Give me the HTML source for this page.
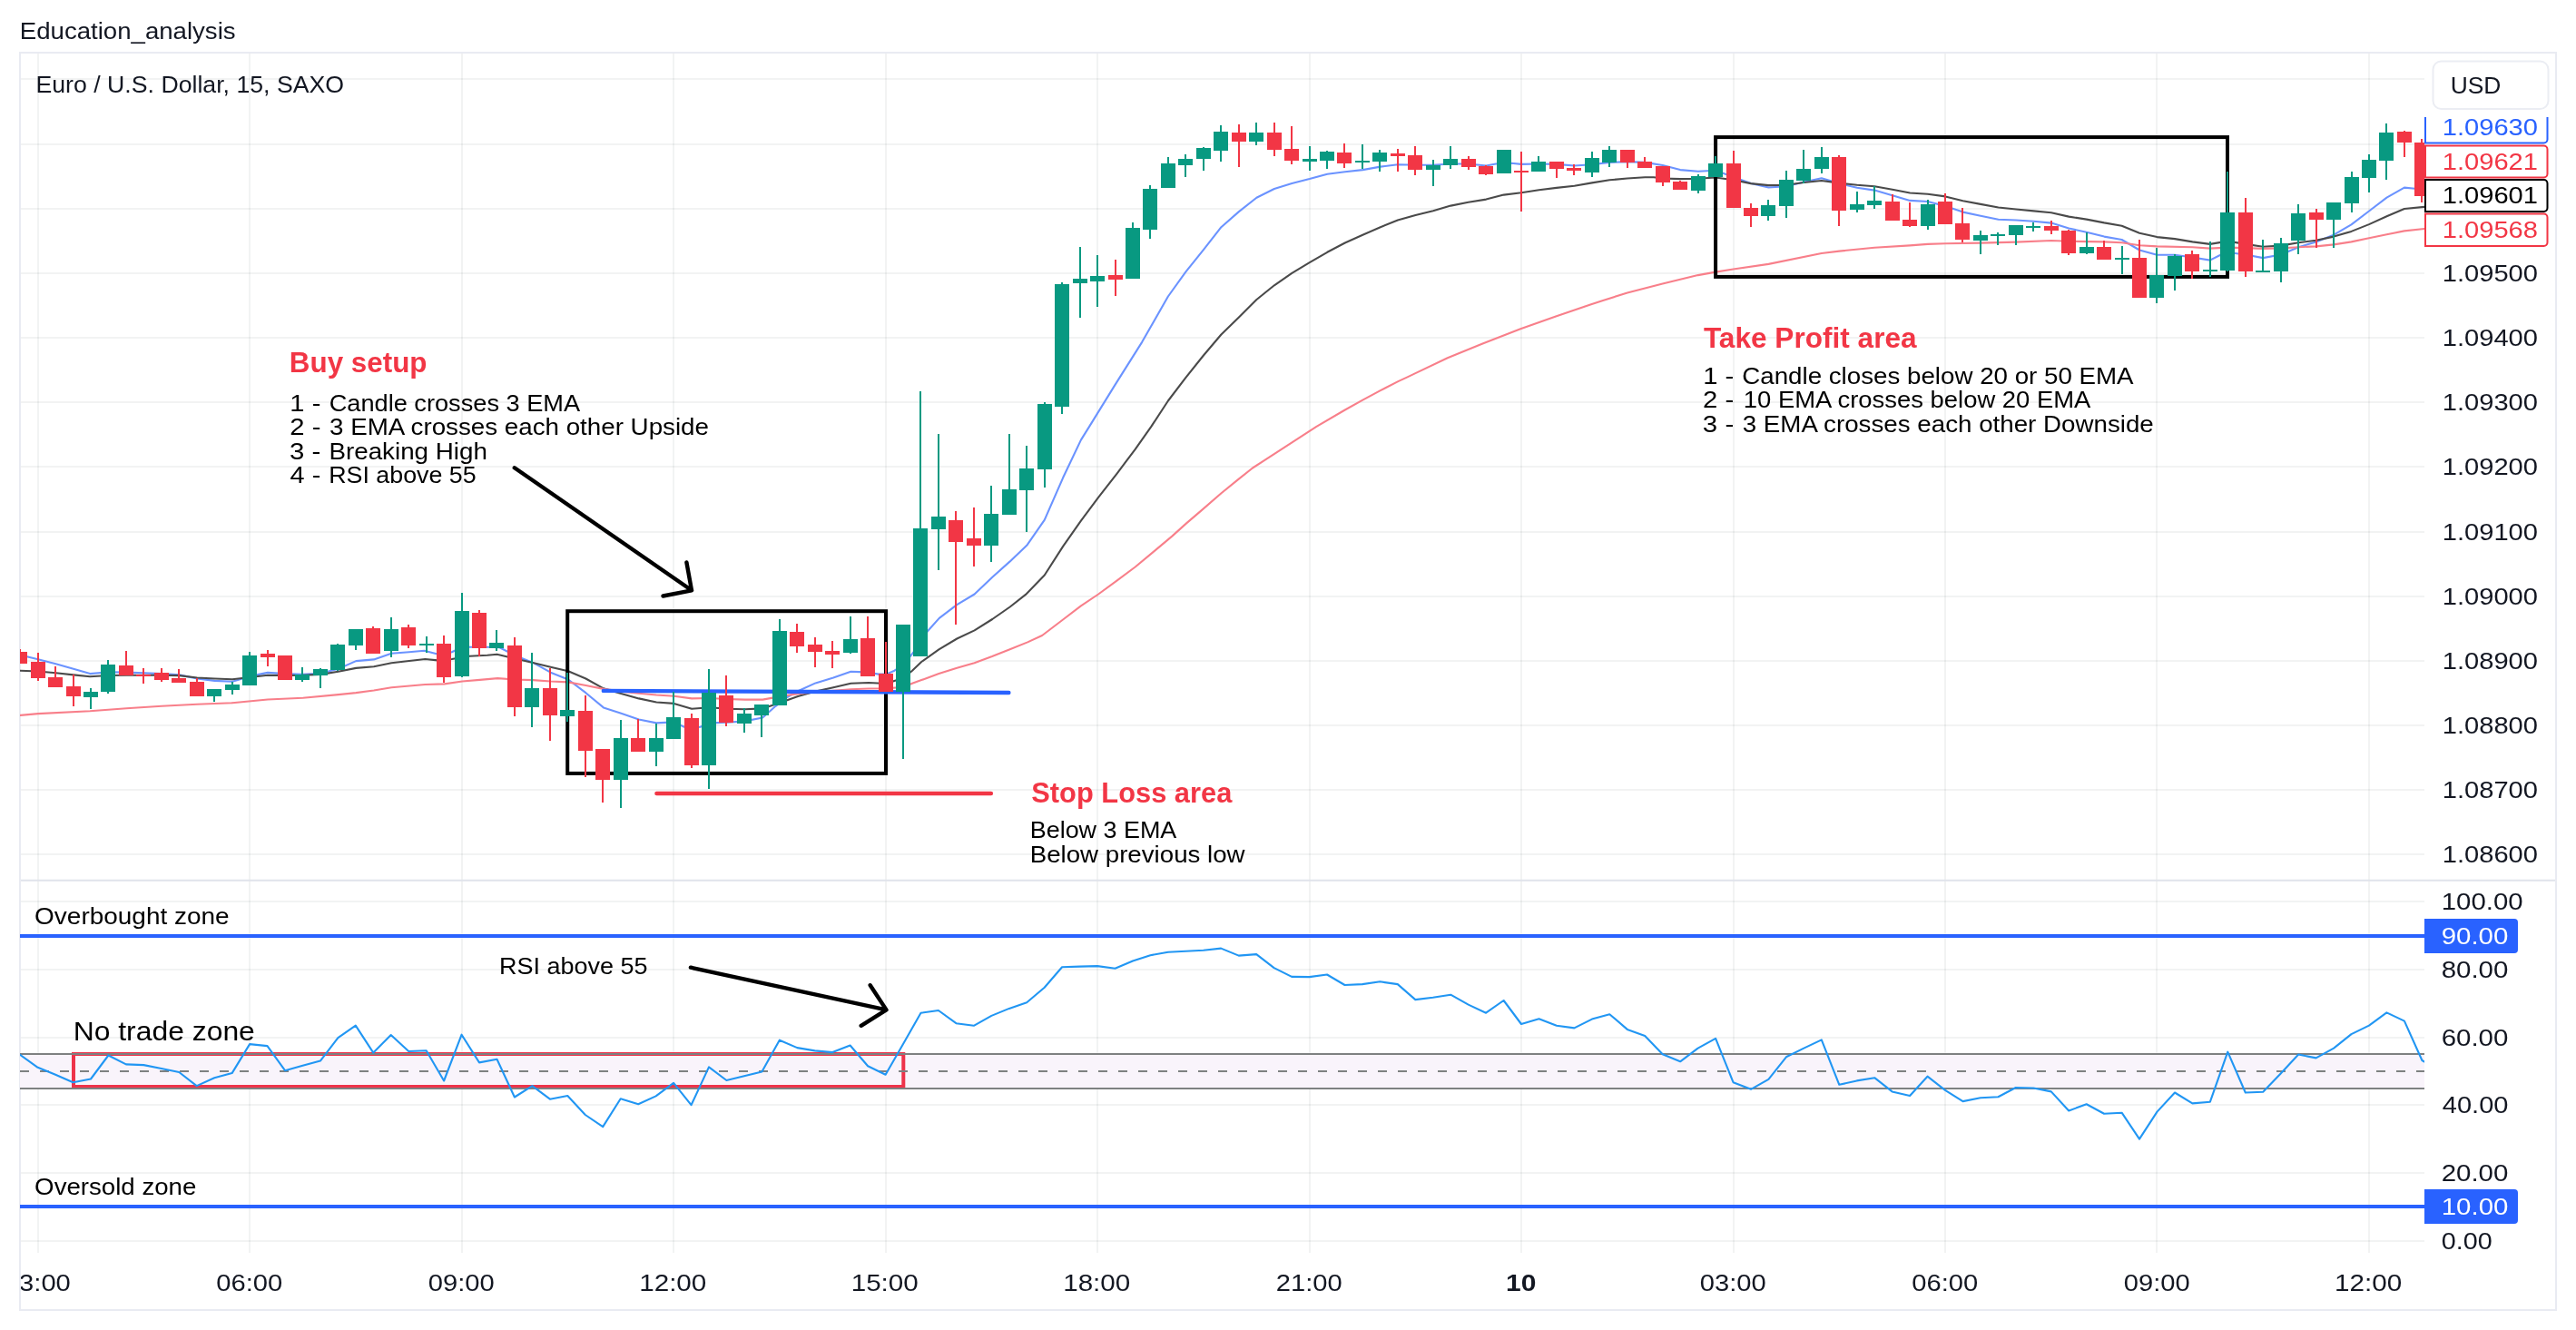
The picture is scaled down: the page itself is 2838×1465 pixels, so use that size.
<!DOCTYPE html><html><head><meta charset="utf-8"><style>html,body{margin:0;padding:0;background:#fff}body{width:2838px;height:1465px;position:relative;overflow:hidden}</style></head><body><svg width="2838" height="1465" viewBox="0 0 2838 1465" style="position:absolute;left:0;top:0;will-change:transform;font-family:'Liberation Sans',sans-serif">
<defs>
<clipPath id="cm"><rect x="22" y="58" width="2649" height="911.7"/></clipPath>
<clipPath id="cr"><rect x="22" y="969.7" width="2649" height="410.70000000000005"/></clipPath>
<clipPath id="ct"><rect x="23" y="1380.4" width="2649" height="62.59999999999991"/></clipPath>
<clipPath id="ca"><rect x="2671" y="129" width="145" height="1314"/></clipPath>
</defs>
<rect width="2838" height="1465" fill="#fff"/>
<g stroke="rgba(40,52,50,0.06)" stroke-width="2" shape-rendering="crispEdges">
<line x1="22" y1="87" x2="2671" y2="87"/>
<line x1="22" y1="159" x2="2671" y2="159"/>
<line x1="22" y1="230" x2="2671" y2="230"/>
<line x1="22" y1="301" x2="2671" y2="301"/>
<line x1="22" y1="372" x2="2671" y2="372"/>
<line x1="22" y1="443" x2="2671" y2="443"/>
<line x1="22" y1="514" x2="2671" y2="514"/>
<line x1="22" y1="586" x2="2671" y2="586"/>
<line x1="22" y1="657" x2="2671" y2="657"/>
<line x1="22" y1="728" x2="2671" y2="728"/>
<line x1="22" y1="799" x2="2671" y2="799"/>
<line x1="22" y1="870" x2="2671" y2="870"/>
<line x1="22" y1="941" x2="2671" y2="941"/>
<line x1="22" y1="993" x2="2671" y2="993"/>
<line x1="22" y1="1068" x2="2671" y2="1068"/>
<line x1="22" y1="1143" x2="2671" y2="1143"/>
<line x1="22" y1="1217" x2="2671" y2="1217"/>
<line x1="22" y1="1292" x2="2671" y2="1292"/>
<line x1="22" y1="1367" x2="2671" y2="1367"/>
<line x1="42" y1="58" x2="42" y2="1380.4"/>
<line x1="275" y1="58" x2="275" y2="1380.4"/>
<line x1="509" y1="58" x2="509" y2="1380.4"/>
<line x1="742" y1="58" x2="742" y2="1380.4"/>
<line x1="976" y1="58" x2="976" y2="1380.4"/>
<line x1="1209" y1="58" x2="1209" y2="1380.4"/>
<line x1="1443" y1="58" x2="1443" y2="1380.4"/>
<line x1="1676" y1="58" x2="1676" y2="1380.4"/>
<line x1="1910" y1="58" x2="1910" y2="1380.4"/>
<line x1="2143" y1="58" x2="2143" y2="1380.4"/>
<line x1="2376" y1="58" x2="2376" y2="1380.4"/>
<line x1="2610" y1="58" x2="2610" y2="1380.4"/>
</g>
<line x1="22" y1="969.7" x2="2816" y2="969.7" stroke="#e0e3eb" stroke-width="2"/>
<rect x="22" y="58" width="2794" height="1385" fill="none" stroke="#e9ebf2" stroke-width="2"/>
<rect x="22" y="1161" width="2649" height="38" fill="#f9f4fb"/>
<rect x="81" y="1161" width="914.3" height="36" fill="none" stroke="#ee334a" stroke-width="4"/>
<g stroke="#7e8181" stroke-width="2"><line x1="22" y1="1161" x2="2671" y2="1161"/><line x1="22" y1="1199" x2="2671" y2="1199"/>
<line x1="22" y1="1180" x2="2671" y2="1180" stroke-dasharray="10 12"/></g>
<polyline points="22.5,721.6 41.9,726.3 61.5,731.2 80.9,736.7 99.2,742.1 119.8,740.2 139.3,740.6 158.7,741.3 178.2,742.1 197.6,743.4 217.1,747.5 236.5,749.9 256.0,750.7 275.5,744.9 294.9,740.9 314.4,742.1 333.8,742.9 353.3,741.8 372.7,736.7 392.2,728.1 411.9,726.4 431.3,719.8 450.8,718.2 467.4,716.8 482.1,720.5 489.5,720.3 497.8,718.2 508.9,713.0 517.3,712.7 536.9,712.7 550.5,713.3 567.5,722.1 587.1,729.9 606.6,740.7 626.0,748.5 645.4,763.2 664.9,779.4 684.3,785.7 703.8,792.5 723.2,796.4 742.5,795.4 753.9,800.7 762.0,801.5 771.5,800.7 781.6,796.4 801.1,795.8 820.7,794.4 840.2,790.5 854.5,777.8 867.2,768.1 879.1,761.2 898.5,752.4 918.1,746.5 937.4,739.7 946.4,740.1 957.0,740.7 967.9,742.6 976.3,742.6 985.5,738.7 995.9,731.9 1005.0,720.2 1015.2,707.4 1021.7,695.5 1034.8,680.9 1054.2,666.2 1073.6,654.5 1093.3,635.8 1112.7,618.4 1131.2,600.8 1150.8,572.6 1171.1,526.3 1190.9,484.6 1200.1,469.9 1228.5,423.9 1258.3,376.6 1286.9,326.5 1306.4,299.4 1325.9,275.1 1345.4,250.2 1364.9,233.1 1384.4,217.7 1403.9,208.0 1423.3,202.0 1442.8,197.1 1462.3,191.7 1481.8,189.3 1501.3,187.1 1520.8,183.6 1539.9,181.2 1559.5,181.7 1578.9,181.7 1598.3,180.5 1617.7,180.5 1637.3,182.5 1648.0,180.5 1665.1,179.7 1676.1,180.9 1695.5,180.5 1714.9,180.9 1734.5,182.5 1753.9,181.2 1773.3,178.9 1792.9,178.1 1812.3,178.9 1831.7,182.0 1851.1,187.1 1870.7,188.7 1890.1,187.8 1909.6,195.1 1929.0,202.1 1948.4,206.5 1968.0,205.2 1987.4,200.6 2006.8,196.2 2026.4,202.1 2045.8,206.8 2065.2,209.6 2084.8,215.3 2104.2,220.9 2123.8,222.0 2143.2,227.0 2162.6,233.6 2182.0,237.8 2201.6,241.7 2221.0,242.5 2240.4,243.7 2259.9,245.6 2279.3,251.5 2298.7,255.7 2318.2,260.6 2337.6,264.0 2357.1,275.5 2376.4,280.8 2396.0,280.8 2415.5,283.5 2434.8,286.6 2445.4,281.3 2454.4,278.0 2473.9,280.5 2493.2,284.1 2512.8,280.5 2532.3,272.2 2551.6,266.4 2571.1,258.7 2590.5,247.4 2610.0,232.5 2629.5,217.6 2648.9,206.6 2660.5,207.7 2671.0,208.5" fill="none" stroke="#6b93ff" stroke-width="2.1" stroke-linejoin="round" stroke-linecap="round" clip-path="url(#cm)" />
<polyline points="22.5,738.7 41.9,739.5 61.5,741.3 80.9,743.4 99.2,745.2 119.8,744.0 139.3,743.7 178.2,743.7 197.6,744.1 217.1,746.5 236.5,747.5 256.0,748.3 275.5,746.0 294.9,743.7 314.4,744.0 333.8,743.7 353.3,742.9 372.7,739.8 392.2,735.9 411.9,734.2 431.3,730.3 450.8,728.0 468.4,726.0 482.1,727.4 497.8,726.0 517.3,722.7 536.9,721.7 547.6,720.7 567.5,725.4 587.1,729.9 606.6,734.8 626.0,739.3 645.4,747.5 664.9,758.3 684.3,764.1 703.8,769.4 723.2,773.5 742.5,774.9 762.1,780.8 781.6,779.2 801.1,780.8 820.7,781.2 840.2,780.4 859.6,773.9 879.1,767.1 898.5,761.6 918.1,757.3 937.4,752.8 957.0,752.0 976.3,753.0 995.9,746.5 1005.0,738.7 1015.2,729.0 1034.4,715.3 1054.3,703.5 1073.6,694.4 1093.3,682.0 1112.7,668.5 1130.0,654.9 1150.8,633.5 1171.1,601.9 1190.9,573.7 1210.1,547.8 1230.4,521.8 1250.7,494.8 1268.3,469.9 1286.9,441.5 1306.4,415.8 1325.9,391.5 1345.4,368.5 1364.9,349.5 1384.4,330.0 1403.9,314.3 1423.3,300.8 1442.8,289.2 1462.3,277.8 1481.8,267.5 1501.3,258.8 1520.8,250.2 1539.9,242.6 1559.5,237.1 1578.9,232.2 1598.3,226.6 1617.7,222.7 1637.3,219.6 1656.7,214.6 1676.1,212.3 1695.5,209.2 1714.9,206.9 1734.5,204.8 1753.9,201.4 1773.3,198.3 1792.9,196.5 1812.3,195.2 1821.9,195.2 1831.7,196.5 1851.1,197.1 1870.7,196.8 1890.1,195.5 1909.6,198.2 1929.0,202.1 1948.4,204.1 1968.0,203.7 1987.4,201.0 2006.8,199.0 2026.4,201.6 2045.8,203.7 2065.2,205.2 2084.8,208.8 2104.2,212.5 2123.8,213.8 2143.2,216.4 2162.6,221.2 2182.0,224.9 2201.6,228.5 2221.0,230.5 2240.4,232.4 2259.9,234.3 2279.3,238.6 2298.7,241.6 2318.2,245.4 2337.6,248.7 2357.1,256.8 2376.4,261.1 2396.0,263.1 2415.5,266.4 2434.8,268.9 2454.4,265.6 2473.9,268.9 2493.2,271.7 2512.8,270.6 2532.3,267.3 2551.6,264.8 2571.1,260.6 2590.5,254.9 2610.0,247.1 2629.5,238.3 2648.9,230.0 2671.0,227.9" fill="none" stroke="#4a4a4a" stroke-width="2.1" stroke-linejoin="round" stroke-linecap="round" clip-path="url(#cm)" />
<polyline points="22.5,787.9 41.9,786.1 99.2,783.3 139.3,780.2 178.2,777.8 217.1,775.8 256.0,774.3 294.9,770.5 333.8,768.8 372.7,765.1 392.2,763.1 411.9,760.5 431.3,757.3 468.4,754.0 489.7,753.4 509.3,750.5 528.6,748.9 548.2,747.1 567.5,748.5 587.1,749.1 606.6,750.5 626.0,751.4 645.4,755.0 664.9,758.9 684.3,761.6 703.8,763.8 723.2,765.5 742.5,766.7 762.1,769.4 781.6,769.0 801.1,770.0 820.7,770.6 840.2,770.6 859.6,767.1 879.1,764.1 898.5,762.2 918.1,760.8 937.4,759.3 957.0,758.5 976.3,758.3 995.9,756.9 1005.0,752.8 1015.2,749.1 1034.4,742.1 1054.3,735.8 1073.5,730.3 1093.0,723.1 1112.6,715.3 1132.1,707.4 1148.1,700.0 1171.1,682.5 1190.9,667.3 1210.1,654.5 1230.4,639.6 1250.7,624.5 1271.0,607.6 1291.3,590.6 1307.1,576.4 1322.9,562.9 1345.5,543.3 1363.5,528.6 1380.0,515.5 1450.4,469.9 1481.8,451.5 1501.3,440.7 1520.8,430.2 1540.3,420.1 1550.0,415.6 1556.8,412.4 1594.8,394.2 1632.8,378.7 1675.2,362.3 1714.1,348.4 1752.2,335.4 1766.0,330.9 1792.9,322.5 1831.7,312.5 1870.7,303.1 1890.1,299.6 1909.6,296.5 1948.4,290.9 2006.8,279.0 2026.4,276.6 2065.2,272.8 2104.2,270.4 2123.8,268.9 2143.2,268.3 2182.0,267.6 2221.0,266.6 2259.9,265.0 2279.3,265.8 2318.2,266.4 2337.6,267.3 2357.1,270.2 2376.4,271.4 2415.5,272.2 2434.8,273.6 2454.4,272.6 2473.9,273.1 2493.2,273.9 2512.8,273.4 2532.3,272.2 2551.6,271.4 2571.1,269.4 2590.5,266.4 2610.0,262.3 2629.5,258.2 2648.9,254.4 2671.0,252.0" fill="none" stroke="#f87f8a" stroke-width="2.1" stroke-linejoin="round" stroke-linecap="round" clip-path="url(#cm)" />
<g fill="none" stroke="#000" stroke-width="4">
<rect x="625.2" y="673.2" width="350.8" height="178.7"/>
<rect x="1890.1" y="151.1" width="563.9" height="153.8"/>
</g>
<g fill="none" stroke="#000" stroke-width="4.4" stroke-linecap="round" stroke-linejoin="round">
<path d="M566.8 515.3 L762 650.3 M756.4 619.5 L762 650.3 L730.5 656.5"/>
<path d="M760.9 1065.7 L976.5 1112.4 M958.7 1085.2 L976.5 1112.4 L948.7 1129.8"/>
</g>
<line x1="664.8" y1="760.9" x2="1111.4" y2="763" stroke="#2962FF" stroke-width="4.4" stroke-linecap="round"/>
<line x1="723.4" y1="874" x2="1091.9" y2="874" stroke="#F23645" stroke-width="4.4" stroke-linecap="round"/>
<g clip-path="url(#cm)" shape-rendering="crispEdges">
<rect x="21" y="715" width="2" height="16" fill="#F23645"/>
<rect x="14" y="718" width="16" height="13" fill="#F23645"/>
<rect x="41" y="719" width="2" height="31" fill="#F23645"/>
<rect x="34" y="729" width="16" height="18" fill="#F23645"/>
<rect x="60" y="734" width="2" height="23" fill="#F23645"/>
<rect x="53" y="746" width="16" height="11" fill="#F23645"/>
<rect x="80" y="743" width="2" height="35" fill="#F23645"/>
<rect x="73" y="756" width="16" height="11" fill="#F23645"/>
<rect x="99" y="758" width="2" height="23" fill="#089981"/>
<rect x="92" y="762" width="16" height="6" fill="#089981"/>
<rect x="118" y="727" width="2" height="37" fill="#089981"/>
<rect x="111" y="732" width="16" height="30" fill="#089981"/>
<rect x="138" y="717" width="2" height="27" fill="#F23645"/>
<rect x="131" y="733" width="16" height="11" fill="#F23645"/>
<rect x="157" y="736" width="2" height="17" fill="#F23645"/>
<rect x="150" y="743" width="16" height="2" fill="#F23645"/>
<rect x="177" y="736" width="2" height="15" fill="#F23645"/>
<rect x="170" y="741" width="16" height="8" fill="#F23645"/>
<rect x="196" y="737" width="2" height="15" fill="#F23645"/>
<rect x="189" y="747" width="16" height="5" fill="#F23645"/>
<rect x="216" y="747" width="2" height="20" fill="#F23645"/>
<rect x="209" y="751" width="16" height="16" fill="#F23645"/>
<rect x="235" y="759" width="2" height="14" fill="#089981"/>
<rect x="228" y="759" width="16" height="8" fill="#089981"/>
<rect x="255" y="751" width="2" height="14" fill="#089981"/>
<rect x="248" y="754" width="16" height="6" fill="#089981"/>
<rect x="274" y="718" width="2" height="37" fill="#089981"/>
<rect x="267" y="722" width="16" height="33" fill="#089981"/>
<rect x="294" y="716" width="2" height="18" fill="#F23645"/>
<rect x="287" y="720" width="16" height="4" fill="#F23645"/>
<rect x="313" y="722" width="2" height="27" fill="#F23645"/>
<rect x="306" y="722" width="16" height="27" fill="#F23645"/>
<rect x="332" y="735" width="2" height="16" fill="#089981"/>
<rect x="325" y="743" width="16" height="6" fill="#089981"/>
<rect x="352" y="736" width="2" height="22" fill="#089981"/>
<rect x="345" y="737" width="16" height="7" fill="#089981"/>
<rect x="371" y="709" width="2" height="30" fill="#089981"/>
<rect x="364" y="710" width="16" height="28" fill="#089981"/>
<rect x="391" y="693" width="2" height="23" fill="#089981"/>
<rect x="384" y="693" width="16" height="18" fill="#089981"/>
<rect x="410" y="690" width="2" height="30" fill="#F23645"/>
<rect x="403" y="692" width="16" height="28" fill="#F23645"/>
<rect x="430" y="680" width="2" height="44" fill="#089981"/>
<rect x="423" y="693" width="16" height="24" fill="#089981"/>
<rect x="449" y="688" width="2" height="26" fill="#F23645"/>
<rect x="442" y="691" width="16" height="20" fill="#F23645"/>
<rect x="469" y="701" width="2" height="18" fill="#089981"/>
<rect x="462" y="709" width="16" height="2" fill="#089981"/>
<rect x="488" y="700" width="2" height="52" fill="#F23645"/>
<rect x="481" y="709" width="16" height="37" fill="#F23645"/>
<rect x="508" y="653" width="2" height="93" fill="#089981"/>
<rect x="501" y="673" width="16" height="72" fill="#089981"/>
<rect x="527" y="672" width="2" height="51" fill="#F23645"/>
<rect x="520" y="675" width="16" height="39" fill="#F23645"/>
<rect x="546" y="694" width="2" height="23" fill="#089981"/>
<rect x="539" y="708" width="16" height="6" fill="#089981"/>
<rect x="566" y="702" width="2" height="87" fill="#F23645"/>
<rect x="559" y="711" width="16" height="68" fill="#F23645"/>
<rect x="585" y="719" width="2" height="82" fill="#089981"/>
<rect x="578" y="758" width="16" height="21" fill="#089981"/>
<rect x="605" y="736" width="2" height="80" fill="#F23645"/>
<rect x="598" y="758" width="16" height="30" fill="#F23645"/>
<rect x="624" y="741" width="2" height="54" fill="#089981"/>
<rect x="617" y="782" width="16" height="7" fill="#089981"/>
<rect x="644" y="766" width="2" height="90" fill="#F23645"/>
<rect x="637" y="783" width="16" height="44" fill="#F23645"/>
<rect x="663" y="825" width="2" height="59" fill="#F23645"/>
<rect x="656" y="825" width="16" height="34" fill="#F23645"/>
<rect x="683" y="793" width="2" height="97" fill="#089981"/>
<rect x="676" y="813" width="16" height="46" fill="#089981"/>
<rect x="702" y="792" width="2" height="36" fill="#F23645"/>
<rect x="695" y="813" width="16" height="15" fill="#F23645"/>
<rect x="722" y="797" width="2" height="47" fill="#089981"/>
<rect x="715" y="813" width="16" height="15" fill="#089981"/>
<rect x="741" y="762" width="2" height="52" fill="#089981"/>
<rect x="734" y="790" width="16" height="24" fill="#089981"/>
<rect x="761" y="786" width="2" height="60" fill="#F23645"/>
<rect x="754" y="791" width="16" height="52" fill="#F23645"/>
<rect x="780" y="737" width="2" height="132" fill="#089981"/>
<rect x="773" y="763" width="16" height="80" fill="#089981"/>
<rect x="799" y="744" width="2" height="56" fill="#F23645"/>
<rect x="792" y="766" width="16" height="30" fill="#F23645"/>
<rect x="819" y="780" width="2" height="27" fill="#089981"/>
<rect x="812" y="786" width="16" height="11" fill="#089981"/>
<rect x="838" y="776" width="2" height="36" fill="#089981"/>
<rect x="831" y="776" width="16" height="12" fill="#089981"/>
<rect x="858" y="682" width="2" height="95" fill="#089981"/>
<rect x="851" y="695" width="16" height="82" fill="#089981"/>
<rect x="877" y="687" width="2" height="32" fill="#F23645"/>
<rect x="870" y="696" width="16" height="16" fill="#F23645"/>
<rect x="897" y="702" width="2" height="33" fill="#F23645"/>
<rect x="890" y="710" width="16" height="8" fill="#F23645"/>
<rect x="916" y="706" width="2" height="30" fill="#F23645"/>
<rect x="909" y="717" width="16" height="4" fill="#F23645"/>
<rect x="936" y="679" width="2" height="41" fill="#089981"/>
<rect x="929" y="704" width="16" height="15" fill="#089981"/>
<rect x="955" y="679" width="2" height="66" fill="#F23645"/>
<rect x="948" y="703" width="16" height="42" fill="#F23645"/>
<rect x="975" y="707" width="2" height="55" fill="#F23645"/>
<rect x="968" y="742" width="16" height="20" fill="#F23645"/>
<rect x="994" y="688" width="2" height="148" fill="#089981"/>
<rect x="987" y="688" width="16" height="74" fill="#089981"/>
<rect x="1013" y="431" width="2" height="292" fill="#089981"/>
<rect x="1006" y="582" width="16" height="141" fill="#089981"/>
<rect x="1033" y="478" width="2" height="150" fill="#089981"/>
<rect x="1026" y="569" width="16" height="14" fill="#089981"/>
<rect x="1052" y="563" width="2" height="125" fill="#F23645"/>
<rect x="1045" y="573" width="16" height="24" fill="#F23645"/>
<rect x="1072" y="559" width="2" height="65" fill="#F23645"/>
<rect x="1065" y="593" width="16" height="8" fill="#F23645"/>
<rect x="1091" y="535" width="2" height="84" fill="#089981"/>
<rect x="1084" y="566" width="16" height="35" fill="#089981"/>
<rect x="1111" y="478" width="2" height="89" fill="#089981"/>
<rect x="1104" y="539" width="16" height="28" fill="#089981"/>
<rect x="1130" y="491" width="2" height="95" fill="#089981"/>
<rect x="1123" y="516" width="16" height="24" fill="#089981"/>
<rect x="1150" y="443" width="2" height="94" fill="#089981"/>
<rect x="1143" y="445" width="16" height="72" fill="#089981"/>
<rect x="1169" y="311" width="2" height="145" fill="#089981"/>
<rect x="1162" y="313" width="16" height="135" fill="#089981"/>
<rect x="1189" y="272" width="2" height="78" fill="#089981"/>
<rect x="1182" y="307" width="16" height="5" fill="#089981"/>
<rect x="1208" y="281" width="2" height="57" fill="#089981"/>
<rect x="1201" y="304" width="16" height="6" fill="#089981"/>
<rect x="1228" y="286" width="2" height="40" fill="#F23645"/>
<rect x="1221" y="303" width="16" height="5" fill="#F23645"/>
<rect x="1247" y="245" width="2" height="62" fill="#089981"/>
<rect x="1240" y="251" width="16" height="56" fill="#089981"/>
<rect x="1266" y="204" width="2" height="59" fill="#089981"/>
<rect x="1259" y="208" width="16" height="45" fill="#089981"/>
<rect x="1286" y="173" width="2" height="34" fill="#089981"/>
<rect x="1279" y="180" width="16" height="27" fill="#089981"/>
<rect x="1305" y="170" width="2" height="25" fill="#089981"/>
<rect x="1298" y="175" width="16" height="7" fill="#089981"/>
<rect x="1325" y="162" width="2" height="26" fill="#089981"/>
<rect x="1318" y="163" width="16" height="12" fill="#089981"/>
<rect x="1344" y="138" width="2" height="40" fill="#089981"/>
<rect x="1337" y="145" width="16" height="21" fill="#089981"/>
<rect x="1364" y="137" width="2" height="47" fill="#F23645"/>
<rect x="1357" y="146" width="16" height="10" fill="#F23645"/>
<rect x="1383" y="135" width="2" height="25" fill="#089981"/>
<rect x="1376" y="146" width="16" height="10" fill="#089981"/>
<rect x="1403" y="135" width="2" height="37" fill="#F23645"/>
<rect x="1396" y="146" width="16" height="19" fill="#F23645"/>
<rect x="1422" y="139" width="2" height="42" fill="#F23645"/>
<rect x="1415" y="164" width="16" height="13" fill="#F23645"/>
<rect x="1442" y="161" width="2" height="27" fill="#089981"/>
<rect x="1435" y="175" width="16" height="3" fill="#089981"/>
<rect x="1461" y="166" width="2" height="20" fill="#089981"/>
<rect x="1454" y="167" width="16" height="10" fill="#089981"/>
<rect x="1480" y="158" width="2" height="27" fill="#F23645"/>
<rect x="1473" y="168" width="16" height="12" fill="#F23645"/>
<rect x="1500" y="159" width="2" height="27" fill="#089981"/>
<rect x="1493" y="177" width="16" height="2" fill="#089981"/>
<rect x="1519" y="165" width="2" height="24" fill="#089981"/>
<rect x="1512" y="168" width="16" height="10" fill="#089981"/>
<rect x="1539" y="164" width="2" height="25" fill="#F23645"/>
<rect x="1532" y="169" width="16" height="3" fill="#F23645"/>
<rect x="1558" y="161" width="2" height="32" fill="#F23645"/>
<rect x="1551" y="171" width="16" height="16" fill="#F23645"/>
<rect x="1578" y="176" width="2" height="29" fill="#089981"/>
<rect x="1571" y="182" width="16" height="5" fill="#089981"/>
<rect x="1597" y="161" width="2" height="25" fill="#089981"/>
<rect x="1590" y="175" width="16" height="7" fill="#089981"/>
<rect x="1617" y="172" width="2" height="15" fill="#F23645"/>
<rect x="1610" y="175" width="16" height="9" fill="#F23645"/>
<rect x="1636" y="182" width="2" height="11" fill="#F23645"/>
<rect x="1629" y="183" width="16" height="9" fill="#F23645"/>
<rect x="1656" y="165" width="2" height="26" fill="#089981"/>
<rect x="1649" y="165" width="16" height="26" fill="#089981"/>
<rect x="1675" y="167" width="2" height="66" fill="#F23645"/>
<rect x="1668" y="188" width="16" height="2" fill="#F23645"/>
<rect x="1694" y="172" width="2" height="17" fill="#089981"/>
<rect x="1687" y="178" width="16" height="11" fill="#089981"/>
<rect x="1714" y="178" width="2" height="18" fill="#F23645"/>
<rect x="1707" y="178" width="16" height="8" fill="#F23645"/>
<rect x="1733" y="181" width="2" height="12" fill="#F23645"/>
<rect x="1726" y="185" width="16" height="3" fill="#F23645"/>
<rect x="1753" y="167" width="2" height="28" fill="#089981"/>
<rect x="1746" y="174" width="16" height="16" fill="#089981"/>
<rect x="1772" y="161" width="2" height="23" fill="#089981"/>
<rect x="1765" y="165" width="16" height="14" fill="#089981"/>
<rect x="1792" y="165" width="2" height="20" fill="#F23645"/>
<rect x="1785" y="165" width="16" height="14" fill="#F23645"/>
<rect x="1811" y="173" width="2" height="12" fill="#F23645"/>
<rect x="1804" y="178" width="16" height="7" fill="#F23645"/>
<rect x="1831" y="183" width="2" height="22" fill="#F23645"/>
<rect x="1824" y="183" width="16" height="18" fill="#F23645"/>
<rect x="1850" y="199" width="2" height="10" fill="#F23645"/>
<rect x="1843" y="200" width="16" height="9" fill="#F23645"/>
<rect x="1870" y="192" width="2" height="21" fill="#089981"/>
<rect x="1863" y="194" width="16" height="16" fill="#089981"/>
<rect x="1889" y="172" width="2" height="23" fill="#089981"/>
<rect x="1882" y="180" width="16" height="15" fill="#089981"/>
<rect x="1909" y="166" width="2" height="63" fill="#F23645"/>
<rect x="1902" y="180" width="16" height="49" fill="#F23645"/>
<rect x="1928" y="224" width="2" height="26" fill="#F23645"/>
<rect x="1921" y="229" width="16" height="9" fill="#F23645"/>
<rect x="1947" y="220" width="2" height="23" fill="#089981"/>
<rect x="1940" y="226" width="16" height="12" fill="#089981"/>
<rect x="1967" y="188" width="2" height="52" fill="#089981"/>
<rect x="1960" y="198" width="16" height="29" fill="#089981"/>
<rect x="1986" y="165" width="2" height="37" fill="#089981"/>
<rect x="1979" y="186" width="16" height="13" fill="#089981"/>
<rect x="2006" y="162" width="2" height="29" fill="#089981"/>
<rect x="1999" y="173" width="16" height="13" fill="#089981"/>
<rect x="2025" y="171" width="2" height="78" fill="#F23645"/>
<rect x="2018" y="173" width="16" height="59" fill="#F23645"/>
<rect x="2045" y="211" width="2" height="23" fill="#089981"/>
<rect x="2038" y="225" width="16" height="6" fill="#089981"/>
<rect x="2064" y="205" width="2" height="25" fill="#089981"/>
<rect x="2057" y="221" width="16" height="5" fill="#089981"/>
<rect x="2084" y="214" width="2" height="29" fill="#F23645"/>
<rect x="2077" y="222" width="16" height="21" fill="#F23645"/>
<rect x="2103" y="223" width="2" height="27" fill="#F23645"/>
<rect x="2096" y="242" width="16" height="7" fill="#F23645"/>
<rect x="2123" y="220" width="2" height="33" fill="#089981"/>
<rect x="2116" y="225" width="16" height="24" fill="#089981"/>
<rect x="2142" y="213" width="2" height="34" fill="#F23645"/>
<rect x="2135" y="222" width="16" height="25" fill="#F23645"/>
<rect x="2161" y="229" width="2" height="38" fill="#F23645"/>
<rect x="2154" y="246" width="16" height="18" fill="#F23645"/>
<rect x="2181" y="254" width="2" height="26" fill="#089981"/>
<rect x="2174" y="259" width="16" height="6" fill="#089981"/>
<rect x="2200" y="256" width="2" height="14" fill="#089981"/>
<rect x="2193" y="258" width="16" height="2" fill="#089981"/>
<rect x="2220" y="248" width="2" height="22" fill="#089981"/>
<rect x="2213" y="248" width="16" height="11" fill="#089981"/>
<rect x="2239" y="245" width="2" height="10" fill="#089981"/>
<rect x="2232" y="249" width="16" height="2" fill="#089981"/>
<rect x="2259" y="243" width="2" height="15" fill="#F23645"/>
<rect x="2252" y="249" width="16" height="5" fill="#F23645"/>
<rect x="2278" y="253" width="2" height="28" fill="#F23645"/>
<rect x="2271" y="254" width="16" height="25" fill="#F23645"/>
<rect x="2298" y="256" width="2" height="24" fill="#089981"/>
<rect x="2291" y="272" width="16" height="7" fill="#089981"/>
<rect x="2317" y="265" width="2" height="21" fill="#F23645"/>
<rect x="2310" y="272" width="16" height="14" fill="#F23645"/>
<rect x="2337" y="271" width="2" height="31" fill="#089981"/>
<rect x="2330" y="284" width="16" height="2" fill="#089981"/>
<rect x="2356" y="264" width="2" height="64" fill="#F23645"/>
<rect x="2349" y="284" width="16" height="44" fill="#F23645"/>
<rect x="2375" y="273" width="2" height="61" fill="#089981"/>
<rect x="2368" y="303" width="16" height="25" fill="#089981"/>
<rect x="2395" y="280" width="2" height="40" fill="#089981"/>
<rect x="2388" y="282" width="16" height="22" fill="#089981"/>
<rect x="2414" y="276" width="2" height="31" fill="#F23645"/>
<rect x="2407" y="280" width="16" height="19" fill="#F23645"/>
<rect x="2434" y="266" width="2" height="39" fill="#089981"/>
<rect x="2427" y="297" width="16" height="2" fill="#089981"/>
<rect x="2453" y="189" width="2" height="110" fill="#089981"/>
<rect x="2446" y="234" width="16" height="64" fill="#089981"/>
<rect x="2473" y="218" width="2" height="87" fill="#F23645"/>
<rect x="2466" y="234" width="16" height="65" fill="#F23645"/>
<rect x="2492" y="264" width="2" height="36" fill="#089981"/>
<rect x="2485" y="298" width="16" height="2" fill="#089981"/>
<rect x="2512" y="262" width="2" height="49" fill="#089981"/>
<rect x="2505" y="268" width="16" height="31" fill="#089981"/>
<rect x="2531" y="225" width="2" height="55" fill="#089981"/>
<rect x="2524" y="235" width="16" height="30" fill="#089981"/>
<rect x="2551" y="230" width="2" height="43" fill="#F23645"/>
<rect x="2544" y="234" width="16" height="8" fill="#F23645"/>
<rect x="2570" y="223" width="2" height="50" fill="#089981"/>
<rect x="2563" y="223" width="16" height="19" fill="#089981"/>
<rect x="2590" y="189" width="2" height="45" fill="#089981"/>
<rect x="2583" y="195" width="16" height="29" fill="#089981"/>
<rect x="2609" y="170" width="2" height="42" fill="#089981"/>
<rect x="2602" y="176" width="16" height="20" fill="#089981"/>
<rect x="2628" y="136" width="2" height="62" fill="#089981"/>
<rect x="2621" y="146" width="16" height="31" fill="#089981"/>
<rect x="2648" y="144" width="2" height="29" fill="#F23645"/>
<rect x="2641" y="145" width="16" height="12" fill="#F23645"/>
<rect x="2667" y="153" width="2" height="70" fill="#F23645"/>
<rect x="2660" y="157" width="16" height="59" fill="#F23645"/>
</g>
<line x1="22" y1="1031" x2="2671" y2="1031" stroke="#2962FF" stroke-width="4"/>
<line x1="22" y1="1329" x2="2671" y2="1329" stroke="#2962FF" stroke-width="4"/>
<polyline points="22.1,1161.8 41.6,1175.8 61.1,1183.7 80.5,1192.3 100.0,1188.5 119.4,1162.5 138.9,1172.4 158.3,1173.1 177.8,1177.0 197.3,1181.0 216.7,1196.1 236.2,1187.3 255.6,1182.1 275.1,1150.1 294.5,1152.1 314.0,1179.2 333.5,1173.8 352.9,1168.6 372.4,1143.1 391.8,1129.6 411.3,1159.6 430.7,1140.0 450.2,1158.0 469.7,1157.3 489.1,1190.5 508.6,1139.7 528.0,1170.4 547.5,1166.7 566.9,1208.5 586.4,1196.1 605.9,1210.7 625.3,1207.0 644.8,1228.0 664.2,1241.1 683.7,1210.2 703.2,1216.3 722.6,1207.4 742.1,1192.8 761.5,1217.2 781.0,1175.4 800.4,1190.0 819.9,1185.2 839.4,1180.4 858.8,1145.7 878.3,1154.1 897.7,1157.4 917.2,1159.1 936.6,1151.5 956.1,1174.3 975.6,1183.7 995.0,1150.0 1014.5,1115.7 1033.9,1113.0 1053.4,1127.2 1072.8,1129.8 1092.3,1118.9 1111.8,1110.9 1131.2,1104.3 1150.7,1087.8 1170.1,1065.2 1189.6,1064.6 1209.0,1064.1 1228.5,1066.7 1248.0,1058.5 1267.4,1052.2 1286.9,1048.7 1306.3,1047.8 1325.8,1046.7 1345.2,1044.6 1364.7,1052.6 1384.2,1051.1 1403.6,1066.1 1423.1,1075.9 1442.5,1076.1 1462.0,1073.5 1481.5,1085.0 1500.9,1084.1 1520.4,1081.3 1539.8,1084.1 1559.3,1101.1 1578.7,1098.7 1598.2,1095.7 1617.7,1106.6 1637.1,1115.7 1656.6,1102.0 1676.0,1128.0 1695.5,1122.2 1714.9,1129.8 1734.4,1132.4 1753.9,1122.6 1773.3,1117.2 1792.8,1133.9 1812.2,1141.1 1831.7,1161.3 1851.1,1169.3 1870.6,1154.6 1890.1,1143.9 1909.5,1192.2 1929.0,1199.8 1948.4,1188.9 1967.9,1164.3 1987.3,1154.6 2006.8,1145.4 2026.3,1194.8 2045.7,1190.4 2065.2,1187.2 2084.6,1202.4 2104.1,1207.0 2123.5,1185.7 2143.0,1200.8 2162.5,1213.1 2181.9,1209.3 2201.4,1208.3 2220.8,1198.0 2240.3,1198.5 2259.8,1202.4 2279.2,1223.5 2298.7,1216.3 2318.1,1226.7 2337.6,1225.7 2357.0,1254.6 2376.5,1224.6 2396.0,1203.5 2415.4,1215.4 2434.9,1213.7 2454.3,1158.7 2473.8,1203.5 2493.2,1202.8 2512.7,1182.6 2532.2,1161.5 2551.6,1165.4 2571.1,1154.6 2590.5,1139.1 2610.0,1129.6 2629.4,1115.4 2648.9,1124.6 2668.4,1168.0 2671.0,1169.5" fill="none" stroke="#2196F3" stroke-width="2.1" stroke-linejoin="round" stroke-linecap="round" clip-path="url(#cr)" />
<text x="21.82" y="42.8" font-size="26.6" fill="#131722" font-weight="normal" textLength="237.78" lengthAdjust="spacingAndGlyphs" >Education_analysis</text>
<text x="39.49" y="102.0" font-size="26.6" fill="#131722" font-weight="normal" textLength="339.59" lengthAdjust="spacingAndGlyphs" >Euro / U.S. Dollar, 15, SAXO</text>
<text x="318.84" y="409.9" font-size="32" fill="#F23645" font-weight="bold" textLength="151.70" lengthAdjust="spacingAndGlyphs" >Buy setup</text>
<text x="319.37" y="452.7" font-size="26.2" fill="#000" font-weight="normal" textLength="34.03" lengthAdjust="spacingAndGlyphs" >1 -</text>
<text x="362.66" y="452.7" font-size="26.2" fill="#000" font-weight="normal" textLength="276.48" lengthAdjust="spacingAndGlyphs" >Candle crosses 3 EMA</text>
<text x="319.28" y="479.3" font-size="26.2" fill="#000" font-weight="normal" textLength="34.12" lengthAdjust="spacingAndGlyphs" >2 -</text>
<text x="363.14" y="479.3" font-size="26.2" fill="#000" font-weight="normal" textLength="417.85" lengthAdjust="spacingAndGlyphs" >3 EMA crosses each other Upside</text>
<text x="319.08" y="505.8" font-size="26.2" fill="#000" font-weight="normal" textLength="34.33" lengthAdjust="spacingAndGlyphs" >3 -</text>
<text x="362.48" y="505.8" font-size="26.2" fill="#000" font-weight="normal" textLength="174.38" lengthAdjust="spacingAndGlyphs" >Breaking High</text>
<text x="319.60" y="532.3" font-size="26.2" fill="#000" font-weight="normal" textLength="33.80" lengthAdjust="spacingAndGlyphs" >4 -</text>
<text x="362.15" y="532.3" font-size="26.2" fill="#000" font-weight="normal" textLength="162.53" lengthAdjust="spacingAndGlyphs" >RSI above 55</text>
<text x="1876.90" y="382.8" font-size="32" fill="#F23645" font-weight="bold" textLength="234.70" lengthAdjust="spacingAndGlyphs" >Take Profit area</text>
<text x="1876.17" y="422.7" font-size="26.2" fill="#000" font-weight="normal" textLength="34.03" lengthAdjust="spacingAndGlyphs" >1 -</text>
<text x="1919.24" y="422.7" font-size="26.2" fill="#000" font-weight="normal" textLength="431.39" lengthAdjust="spacingAndGlyphs" >Candle closes below 20 or 50 EMA</text>
<text x="1876.08" y="449.2" font-size="26.2" fill="#000" font-weight="normal" textLength="34.12" lengthAdjust="spacingAndGlyphs" >2 -</text>
<text x="1920.81" y="449.2" font-size="26.2" fill="#000" font-weight="normal" textLength="382.63" lengthAdjust="spacingAndGlyphs" >10 EMA crosses below 20 EMA</text>
<text x="1875.88" y="475.6" font-size="26.2" fill="#000" font-weight="normal" textLength="34.33" lengthAdjust="spacingAndGlyphs" >3 -</text>
<text x="1919.74" y="475.6" font-size="26.2" fill="#000" font-weight="normal" textLength="453.05" lengthAdjust="spacingAndGlyphs" >3 EMA crosses each other Downside</text>
<text x="1136.30" y="884.2" font-size="32" fill="#F23645" font-weight="bold" textLength="221.00" lengthAdjust="spacingAndGlyphs" >Stop Loss area</text>
<text x="1134.74" y="922.9" font-size="26.2" fill="#000" font-weight="normal" textLength="161.61" lengthAdjust="spacingAndGlyphs" >Below 3 EMA</text>
<text x="1134.69" y="949.5" font-size="26.2" fill="#000" font-weight="normal" textLength="236.92" lengthAdjust="spacingAndGlyphs" >Below previous low</text>
<text x="38.13" y="1017.9" font-size="26.2" fill="#000" font-weight="normal" textLength="214.47" lengthAdjust="spacingAndGlyphs" >Overbought zone</text>
<text x="38.14" y="1315.9" font-size="26.2" fill="#000" font-weight="normal" textLength="178.25" lengthAdjust="spacingAndGlyphs" >Oversold zone</text>
<text x="80.68" y="1146.4" font-size="30" fill="#000" font-weight="normal" textLength="200.15" lengthAdjust="spacingAndGlyphs" >No trade zone</text>
<text x="550.14" y="1072.8" font-size="26.2" fill="#000" font-weight="normal" textLength="163.44" lengthAdjust="spacingAndGlyphs" >RSI above 55</text>
<text x="2690.78" y="310.0" font-size="26.2" fill="#131722" font-weight="normal" textLength="105.25" lengthAdjust="spacingAndGlyphs" >1.09500</text>
<text x="2690.78" y="381.0" font-size="26.2" fill="#131722" font-weight="normal" textLength="105.25" lengthAdjust="spacingAndGlyphs" >1.09400</text>
<text x="2690.78" y="452.0" font-size="26.2" fill="#131722" font-weight="normal" textLength="105.25" lengthAdjust="spacingAndGlyphs" >1.09300</text>
<text x="2690.78" y="523.0" font-size="26.2" fill="#131722" font-weight="normal" textLength="105.25" lengthAdjust="spacingAndGlyphs" >1.09200</text>
<text x="2690.78" y="595.0" font-size="26.2" fill="#131722" font-weight="normal" textLength="105.25" lengthAdjust="spacingAndGlyphs" >1.09100</text>
<text x="2690.78" y="666.0" font-size="26.2" fill="#131722" font-weight="normal" textLength="105.25" lengthAdjust="spacingAndGlyphs" >1.09000</text>
<text x="2690.78" y="737.0" font-size="26.2" fill="#131722" font-weight="normal" textLength="105.25" lengthAdjust="spacingAndGlyphs" >1.08900</text>
<text x="2690.78" y="808.0" font-size="26.2" fill="#131722" font-weight="normal" textLength="105.25" lengthAdjust="spacingAndGlyphs" >1.08800</text>
<text x="2690.78" y="879.0" font-size="26.2" fill="#131722" font-weight="normal" textLength="105.25" lengthAdjust="spacingAndGlyphs" >1.08700</text>
<text x="2690.78" y="950.0" font-size="26.2" fill="#131722" font-weight="normal" textLength="105.25" lengthAdjust="spacingAndGlyphs" >1.08600</text>
<text x="2689.76" y="1002.0" font-size="26.2" fill="#131722" font-weight="normal" textLength="89.88" lengthAdjust="spacingAndGlyphs" >100.00</text>
<text x="2689.67" y="1077.0" font-size="26.2" fill="#131722" font-weight="normal" textLength="73.76" lengthAdjust="spacingAndGlyphs" >80.00</text>
<text x="2689.67" y="1152.0" font-size="26.2" fill="#131722" font-weight="normal" textLength="73.76" lengthAdjust="spacingAndGlyphs" >60.00</text>
<text x="2690.80" y="1226.0" font-size="26.2" fill="#131722" font-weight="normal" textLength="72.63" lengthAdjust="spacingAndGlyphs" >40.00</text>
<text x="2689.67" y="1301.0" font-size="26.2" fill="#131722" font-weight="normal" textLength="73.76" lengthAdjust="spacingAndGlyphs" >20.00</text>
<text x="2689.70" y="1376.0" font-size="26.2" fill="#131722" font-weight="normal" textLength="55.92" lengthAdjust="spacingAndGlyphs" >0.00</text>
<g clip-path="url(#ca)">
<path d="M2672 121.5 H2802.5 a4 4 0 0 1 4 4 V153.5 a4 4 0 0 1 -4 4 H2672 Z" fill="#fff" stroke="#2962FF" stroke-width="2"/>
<text x="2690.78" y="148.6" font-size="26.2" fill="#2962FF" font-weight="normal" textLength="105.25" lengthAdjust="spacingAndGlyphs" >1.09630</text>
<path d="M2672 160.5 H2802.5 a4 4 0 0 1 4 4 V191.5 a4 4 0 0 1 -4 4 H2672 Z" fill="#fff" stroke="#F23645" stroke-width="2"/>
<text x="2690.78" y="186.8" font-size="26.2" fill="#F23645" font-weight="normal" textLength="105.25" lengthAdjust="spacingAndGlyphs" >1.09621</text>
<path d="M2672 198 H2802.5 a4 4 0 0 1 4 4 V229 a4 4 0 0 1 -4 4 H2672 Z" fill="#fff" stroke="#000" stroke-width="2"/>
<text x="2690.78" y="224.2" font-size="26.2" fill="#000" font-weight="normal" textLength="105.25" lengthAdjust="spacingAndGlyphs" >1.09601</text>
<path d="M2672 235.5 H2802.5 a4 4 0 0 1 4 4 V267 a4 4 0 0 1 -4 4 H2672 Z" fill="#fff" stroke="#F23645" stroke-width="2"/>
<text x="2690.78" y="262.0" font-size="26.2" fill="#F23645" font-weight="normal" textLength="105.25" lengthAdjust="spacingAndGlyphs" >1.09568</text>
</g>
<rect x="2680.5" y="67.5" width="127" height="52.5" rx="9" fill="#fff" stroke="#ebedf3" stroke-width="2"/>
<text x="2699.68" y="102.7" font-size="26.2" fill="#131722" font-weight="normal" textLength="55.74" lengthAdjust="spacingAndGlyphs" >USD</text>
<path d="M2671 1012 H2770 a4 4 0 0 1 4 4 V1046 a4 4 0 0 1 -4 4 H2671 Z" fill="#2962FF"/>
<text x="2689.67" y="1040.2" font-size="26.2" fill="#fff" font-weight="normal" textLength="73.76" lengthAdjust="spacingAndGlyphs" >90.00</text>
<path d="M2671 1310 H2770 a4 4 0 0 1 4 4 V1344 a4 4 0 0 1 -4 4 H2671 Z" fill="#2962FF"/>
<text x="2689.75" y="1338.2" font-size="26.2" fill="#fff" font-weight="normal" textLength="73.68" lengthAdjust="spacingAndGlyphs" >10.00</text>
<g clip-path="url(#ct)">
<text x="4.88" y="1422.4" font-size="26.2" fill="#131722" font-weight="normal" textLength="72.94" lengthAdjust="spacingAndGlyphs" >03:00</text>
<text x="238.37" y="1422.4" font-size="26.2" fill="#131722" font-weight="normal" textLength="72.94" lengthAdjust="spacingAndGlyphs" >06:00</text>
<text x="471.86" y="1422.4" font-size="26.2" fill="#131722" font-weight="normal" textLength="72.94" lengthAdjust="spacingAndGlyphs" >09:00</text>
<text x="704.21" y="1422.4" font-size="26.2" fill="#131722" font-weight="normal" textLength="74.10" lengthAdjust="spacingAndGlyphs" >12:00</text>
<text x="937.70" y="1422.4" font-size="26.2" fill="#131722" font-weight="normal" textLength="74.10" lengthAdjust="spacingAndGlyphs" >15:00</text>
<text x="1171.19" y="1422.4" font-size="26.2" fill="#131722" font-weight="normal" textLength="74.10" lengthAdjust="spacingAndGlyphs" >18:00</text>
<text x="1405.82" y="1422.4" font-size="26.2" fill="#131722" font-weight="normal" textLength="72.94" lengthAdjust="spacingAndGlyphs" >21:00</text>
<text x="1659.08" y="1422.4" font-size="26.2" fill="#131722" font-weight="bold" textLength="33.39" lengthAdjust="spacingAndGlyphs" >10</text>
<text x="1872.80" y="1422.4" font-size="26.2" fill="#131722" font-weight="normal" textLength="72.94" lengthAdjust="spacingAndGlyphs" >03:00</text>
<text x="2106.29" y="1422.4" font-size="26.2" fill="#131722" font-weight="normal" textLength="72.94" lengthAdjust="spacingAndGlyphs" >06:00</text>
<text x="2339.78" y="1422.4" font-size="26.2" fill="#131722" font-weight="normal" textLength="72.94" lengthAdjust="spacingAndGlyphs" >09:00</text>
<text x="2572.13" y="1422.4" font-size="26.2" fill="#131722" font-weight="normal" textLength="74.10" lengthAdjust="spacingAndGlyphs" >12:00</text>
</g>
</svg></body></html>
